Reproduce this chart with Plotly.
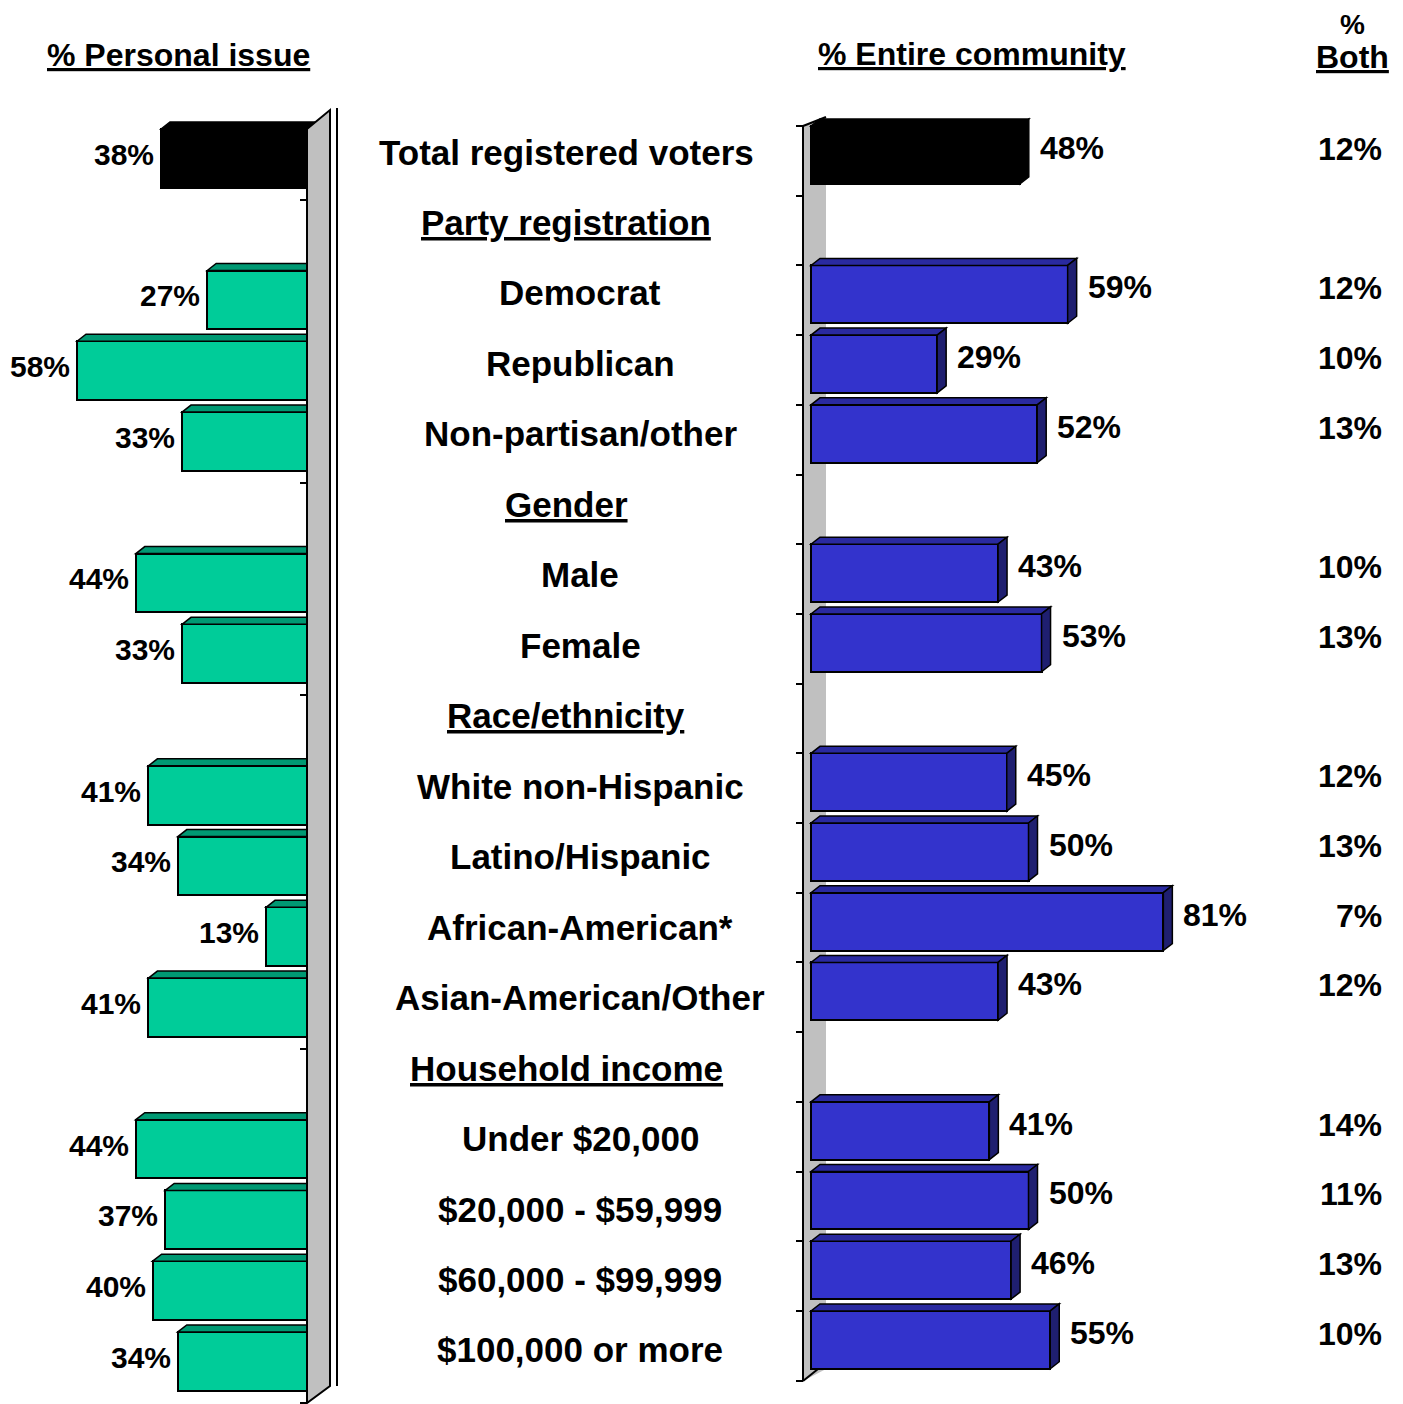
import plotly.graph_objects as go

# ---------------- data ----------------
categories = ["Total registered voters", "Party registration", "Democrat", "Republican",
              "Non-partisan/other", "Gender", "Male", "Female", "Race/ethnicity",
              "White non-Hispanic", "Latino/Hispanic", "African-American*",
              "Asian-American/Other", "Household income", "Under $20,000",
              "$20,000 - $59,999", "$60,000 - $99,999", "$100,000 or more"]
is_header = [False, True, False, False, False, True, False, False, True,
             False, False, False, False, True, False, False, False, False]
personal = [38, None, 27, 58, 33, None, 44, 33, None, 41, 34, 13, 41, None, 44, 37, 40, 34]
community = [48, None, 59, 29, 52, None, 43, 53, None, 45, 50, 81, 43, None, 41, 50, 46, 55]
both = [12, None, 12, 10, 13, None, 10, 13, None, 12, 13, 7, 12, None, 14, 11, 13, 10]

# ---------------- style / geometry ----------------
OFF = 8                      # page body margin
W, H = 1403 - OFF, 1404 - OFF
FONT = "Liberation Sans, Arial, sans-serif"
GREEN, GREEN_TOP = "#00CC99", "#009973"
BLUE, BLUE_TOP, BLUE_SIDE = "#3333CC", "#2A2AA0", "#1F1F70"
BLACK = "#000000"
GREY = "#C0C0C0"


def P(v):  # reference pixel -> canvas pixel
    return v - OFF


XL0, SL = P(320.6), 4.2      # left panel: zero px, px per %
YL0, STL = P(129.0), 70.76   # left panel: first slot top px, slot px
XR0, SR = P(811.0), 4.35     # right panel
YR0, STR = P(126.0), 69.7
LBL0, LBLSTEP = P(152.0), 70.47
BARW = 0.83
DX, DY = 9.0, 7.0            # 3D depth in px

n = len(categories)
rows = [i for i in range(n) if personal[i] is not None]


def lx(px):
    return (XL0 - P(px)) / SL


def ly(py):
    return (P(py) - YL0) / STL


def rx(px):
    return (P(px) - XR0) / SR


def ry(py):
    return (P(py) - YR0) / STR


def px_x(px):
    return P(px) / W


def px_y(py):
    return 1 - P(py) / H


fig = go.Figure()

fig.add_trace(go.Bar(
    orientation="h", x=[personal[i] for i in rows], y=rows,
    width=BARW, offset=0, xaxis="x", yaxis="y",
    marker=dict(color=[BLACK if i == 0 else GREEN for i in rows],
                line=dict(color="black", width=2)),
    hoverinfo="skip", showlegend=False))
fig.add_trace(go.Bar(
    orientation="h", x=[community[i] for i in rows], y=rows,
    width=BARW, offset=0, xaxis="x2", yaxis="y2",
    marker=dict(color=[BLACK if i == 0 else BLUE for i in rows],
                line=dict(color="black", width=2)),
    hoverinfo="skip", showlegend=False))
fig.add_trace(go.Scatter(x=[], y=[], xaxis="x2", yaxis="y3", showlegend=False))

shapes = []
# right wall (behind bars)
shapes.append(dict(type="path", xref="x2", yref="y2", layer="below",
                   path=f"M {rx(803)},{ry(126)} L {rx(826)},{ry(117)} L {rx(826)},{ry(1369)} L {rx(803)},{ry(1381)} Z",
                   fillcolor=GREY, line=dict(width=0)))
shapes.append(dict(type="line", xref="x2", yref="y2", layer="below",
                   x0=rx(803), y0=ry(126), x1=rx(826), y1=ry(117), line=dict(color="black", width=2)))
shapes.append(dict(type="line", xref="x2", yref="y2", layer="below",
                   x0=rx(803), y0=ry(1381), x1=rx(818), y1=ry(1369), line=dict(color="black", width=2)))
shapes.append(dict(type="line", xref="x2", yref="y2", layer="below",
                   x0=rx(803), y0=ry(125), x1=rx(803), y1=ry(1381), line=dict(color="black", width=2)))

dxl, dyl = DX / SL, DY / STL
dxr, dyr = DX / SR, DY / STR
for i in rows:
    v = personal[i]
    top = GREEN_TOP if i else BLACK
    shapes.append(dict(type="path", xref="x", yref="y", layer="above",
                       path=f"M {v},{i} L {v - dxl},{i - dyl} L 0,{i - dyl} L 0,{i} Z",
                       fillcolor=top, line=dict(color="black", width=1.5)))
    v = community[i]
    top = BLUE_TOP if i else BLACK
    side = BLUE_SIDE if i else BLACK
    shapes.append(dict(type="path", xref="x2", yref="y2", layer="above",
                       path=f"M 0,{i} L {v},{i} L {v + dxr},{i - dyr} L {dxr},{i - dyr} Z",
                       fillcolor=top, line=dict(color="black", width=1.5)))
    shapes.append(dict(type="path", xref="x2", yref="y2", layer="above",
                       path=f"M {v},{i} L {v + dxr},{i - dyr} L {v + dxr},{i + BARW - dyr} L {v},{i + BARW} Z",
                       fillcolor=side, line=dict(color="black", width=1.5)))

# left wall (in front of bar ends)
shapes.append(dict(type="path", xref="x", yref="y", layer="above",
                   path=f"M {lx(307)},{ly(129)} L {lx(330)},{ly(110)} L {lx(330)},{ly(1386)} L {lx(307)},{ly(1403)} Z",
                   fillcolor=GREY, line=dict(color="black", width=2)))
shapes.append(dict(type="line", xref="paper", yref="paper",
                   x0=px_x(337), x1=px_x(337), y0=px_y(108), y1=px_y(1386),
                   line=dict(color="black", width=2)))

annotations = []
for i in rows:
    annotations.append(dict(x=personal[i], y=i + BARW / 2, xref="x", yref="y",
                            text=f"{personal[i]}%", showarrow=False, xanchor="right", yanchor="middle",
                            xshift=-5, yshift=4,
                            font=dict(family=FONT, size=30, color="black", weight=700)))
    annotations.append(dict(x=community[i], y=i + BARW / 2, xref="x2", yref="y2",
                            text=f"{community[i]}%", showarrow=False, xanchor="left", yanchor="middle",
                            xshift=18, yshift=7,
                            font=dict(family=FONT, size=32, color="black", weight=700)))
    annotations.append(dict(x=px_x(1384), y=i + BARW / 2, xref="paper", yref="y2",
                            text=f"{both[i]}%", showarrow=False, xanchor="right", yanchor="middle",
                            yshift=6,
                            font=dict(family=FONT, size=32, color="black", weight=700)))

for i, c in enumerate(categories):
    centred = is_header[i] or i == 0
    annotations.append(dict(x=px_x(566 if centred else 580), y=i, xref="paper", yref="y3",
                            text=c, showarrow=False, xanchor="center", yanchor="middle",
                            font=dict(family=FONT, size=35, color="black", weight=700,
                                      lineposition="under" if is_header[i] else "none")))

hdr = dict(family=FONT, size=32, color="black", weight=700, lineposition="under")
annotations.append(dict(x=px_x(178), y=px_y(55), xref="paper", yref="paper", text="% Personal issue",
                        showarrow=False, xanchor="center", yanchor="middle", font=hdr))
annotations.append(dict(x=px_x(972), y=px_y(54), xref="paper", yref="paper", text="% Entire community",
                        showarrow=False, xanchor="center", yanchor="middle", font=hdr))
annotations.append(dict(x=px_x(1352), y=1, xref="paper", yref="paper", text="%",
                        showarrow=False, xanchor="center", yanchor="top", borderpad=0,
                        font=dict(family=FONT, size=28, color="black", weight=700)))
annotations.append(dict(x=px_x(1352), y=px_y(57), xref="paper", yref="paper", text="Both",
                        showarrow=False, xanchor="center", yanchor="middle", borderpad=0, font=hdr))

fig.update_layout(
    width=W, height=H, margin=dict(l=0, r=0, t=0, b=0),
    paper_bgcolor="white", plot_bgcolor="rgba(0,0,0,0)",
    showlegend=False, bargap=0,
    xaxis=dict(domain=[0, px_x(345)], range=[lx(OFF), lx(345)], visible=False, fixedrange=True),
    yaxis=dict(domain=[0, 1], range=[(H - YL0) / STL, -YL0 / STL],
               anchor="free", position=px_x(307), showline=False, showgrid=False, zeroline=False,
               ticks="outside", ticklen=7, tickwidth=2, tickcolor="black",
               tickvals=list(range(19)), showticklabels=False, layer="below traces"),
    xaxis2=dict(domain=[px_x(780), 1], range=[rx(780), rx(1403)], visible=False, fixedrange=True),
    yaxis2=dict(domain=[0, 1], range=[(H - YR0) / STR, -YR0 / STR],
                anchor="free", position=px_x(803), showline=False,
                showgrid=False, zeroline=False,
                ticks="outside", ticklen=7, tickwidth=2, tickcolor="black",
                tickvals=list(range(19)), showticklabels=False),
    yaxis3=dict(domain=[0, 1], range=[(H - LBL0) / LBLSTEP, -LBL0 / LBLSTEP],
                anchor="x2", visible=False),
    shapes=shapes, annotations=annotations,
)

fig.write_html("out.html")
